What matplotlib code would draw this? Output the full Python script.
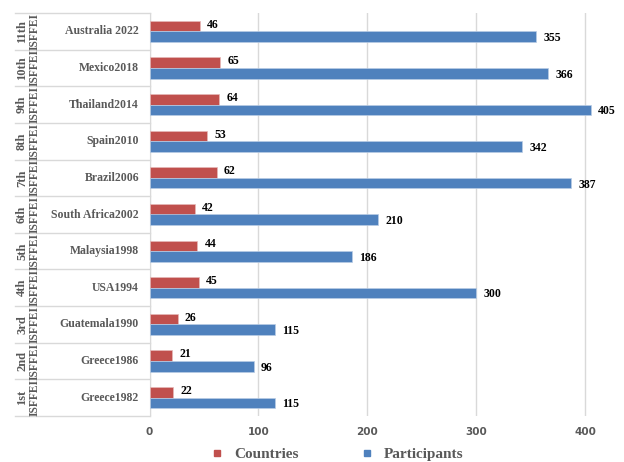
import matplotlib
matplotlib.use("Agg")
import matplotlib.pyplot as plt
from matplotlib.lines import Line2D
from matplotlib.transforms import blended_transform_factory

# data, bottom to top
ordinals = ["1st", "2nd", "3rd", "4th", "5th", "6th", "7th", "8th", "9th", "10th", "11th"]
places = ["Greece1982", "Greece1986", "Guatemala1990", "USA1994", "Malaysia1998",
          "South Africa2002", "Brazil2006", "Spain2010", "Thailand2014", "Mexico2018",
          "Australia 2022"]
countries = [22, 21, 26, 45, 44, 42, 62, 53, 64, 65, 46]
participants = [115, 96, 115, 300, 186, 210, 387, 342, 405, 366, 355]

red = "#C0504D"
blue = "#4F81BD"
gray = "#595959"
serif = ["Liberation Serif", "DejaVu Serif"]

W, H = 624, 462
fig = plt.figure(figsize=(W / 100, H / 100), dpi=100)
ax = fig.add_axes([149.5 / W, 1 - 416 / H, (618 - 149.5) / W, (416 - 13) / H])

ys = list(range(len(places)))
h = 0.29
ax.barh([y + h / 2 for y in ys], countries, height=h, color=red, edgecolor="#E6B9B8",
        linewidth=0.5, zorder=3, label="Countries")
ax.barh([y - h / 2 for y in ys], participants, height=h, color=blue, edgecolor="#B9CDE5",
        linewidth=0.5, zorder=3, label="Participants")

for y, c, p in zip(ys, countries, participants):
    ax.annotate(str(c), (c, y + h / 2), xytext=(5, 1), textcoords="offset points",
                va="center", ha="left", fontsize=8.5, fontweight="bold", family=serif)
    ax.annotate(str(p), (p, y - h / 2), xytext=(5, -1), textcoords="offset points",
                va="center", ha="left", fontsize=8.5, fontweight="bold", family=serif)

ax.set_xlim(0, 430)
ax.set_ylim(-0.5, len(places) - 0.5)
ax.set_xticks([0, 100, 200, 300, 400])
ax.tick_params(axis="x", length=0, labelsize=7.5, labelcolor=gray, pad=8)
ax.set_yticks([])
for s in ["top", "right", "bottom"]:
    ax.spines[s].set_visible(False)
ax.spines["left"].set_color("#D9D9D9")
ax.grid(axis="x", color="#D9D9D9", linewidth=1, zorder=0)
for lab in ax.get_xticklabels():
    lab.set_fontweight("bold")

# category table on the left
tr = blended_transform_factory(fig.transFigure, ax.transData)
for b in range(len(places) + 1):
    ax.add_line(Line2D([15 / W, 149.5 / W], [b - 0.5, b - 0.5], transform=tr,
                       color="#D9D9D9", linewidth=1, clip_on=False))
for y, o, p in zip(ys, ordinals, places):
    ax.text(22 / W, y, o, transform=tr, rotation=90, ha="center", va="center",
            fontsize=9, fontweight="bold", color=gray, family=serif)
    ax.text(35 / W, y, "ISFFEI", transform=tr, rotation=90, ha="center", va="center",
            fontsize=8.3, fontweight="bold", color=gray, family=serif)
    ax.text(139 / W, y, p, transform=tr, ha="right", va="center", fontsize=8.5,
            fontweight="bold", color=gray, family=serif)

handles = [Line2D([], [], marker="s", linestyle="", color=red, markersize=5),
           Line2D([], [], marker="s", linestyle="", color=blue, markersize=5)]
fig.legend(handles, ["Countries", "Participants"], loc="center",
           bbox_to_anchor=(333 / W, 1 - 454 / H), ncol=2, frameon=False,
           handletextpad=0.1, columnspacing=3.5, borderpad=0.2,
           prop={"family": serif, "weight": "bold", "size": 11}, labelcolor=gray)

fig.savefig("out.png", dpi=100)
